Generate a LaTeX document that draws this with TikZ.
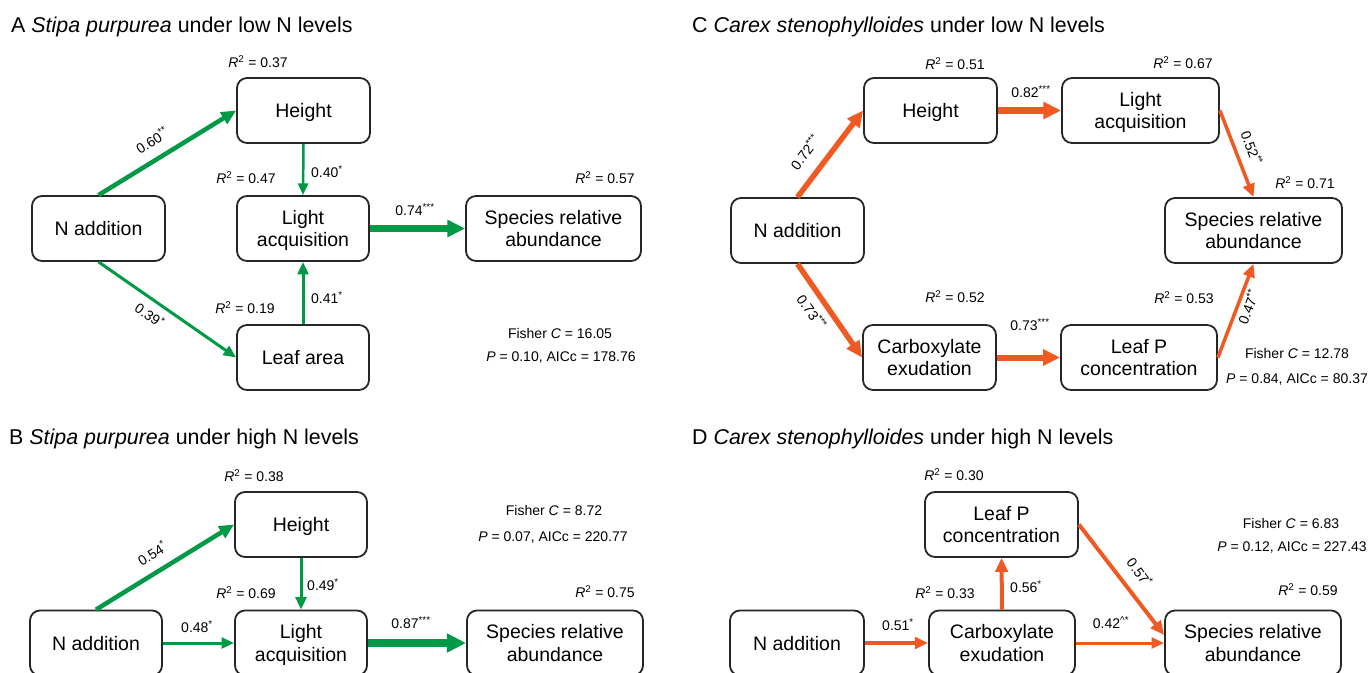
\documentclass[tikz,border=0pt]{standalone}
\usepackage{fontspec}
\setmainfont{Liberation Sans}
\usetikzlibrary{arrows.meta}
\definecolor{sgreen}{RGB}{0,153,70}
\definecolor{corange}{RGB}{240,90,34}
\newcommand{\Rsq}[1]{\textit{R}\textsuperscript{2} = #1}
\newcommand{\sig}[1]{\textsuperscript{#1}}
\begin{document}
\begin{tikzpicture}[x=1pt,y=-1pt,
  box/.style={draw=black!85, line width=1.8pt, rounded corners=10pt, minimum height=65pt, align=center, inner sep=0pt, text depth=0pt, font=\fontsize{19.5}{22.5}\selectfont},
  lab/.style={font=\fontsize{14}{16}\selectfont, inner sep=0pt},
  ttl/.style={font=\fontsize{21.4}{24}\selectfont, anchor=base west, inner sep=0pt},
  garr/.style={draw=sgreen, line width=#1, -{Triangle[length=8pt 1.5, width=6pt 1.6]}},
  oarr/.style={draw=corange, line width=#1, -{Triangle[length=8pt 1.5, width=6pt 1.6]}}]
\clip (0,0) rectangle (1370,672);
\fill[white] (0,0) rectangle (1370,672);
% ---------- Panel A
\node[ttl] (aT) at (11,32) {A \textit{Stipa purpurea} under low N levels};
\node[box, minimum width=133pt] (aH) at (303.5,110.5) {Height};
\node[box, minimum width=132pt] (aL) at (303,228.5) {Light\\acquisition};
\node[box, minimum width=132pt] (aLA) at (303,357.5) {Leaf area};
\node[box, minimum width=133pt] (aN) at (98.5,228.5) {N addition};
\node[box, minimum width=175pt] (aS) at (553.5,228.5) {Species relative\\abundance};
\draw[garr=4.5pt] (aN.north) -- (aH.west);
\draw[garr=2.5pt] (aH.south) -- (aL.north);
\draw[garr=3pt] (aN.south) -- (aLA.west);
\draw[garr=3pt] (aLA.north) -- (aL.south);
\draw[garr=6.5pt] (aL.east) -- (aS.west);
\node[lab] (aR1) at (258,62) {\Rsq{0.37}};
\node[lab] (aR2) at (246,178) {\Rsq{0.47}};
\node[lab, anchor=west] (aE2) at (311,172) {0.40\sig{*}};
\node[lab] (aR3) at (605,178) {\Rsq{0.57}};
\node[lab] (aE5) at (415,210) {0.74\sig{***}};
\node[lab] (aR4) at (245,308) {\Rsq{0.19}};
\node[lab, anchor=west] (aE4) at (311,298) {0.41\sig{*}};
\node[lab, rotate=-35] (aE3) at (150,315) {0.39\sig{*}};
\node[lab, rotate=32] (aE1) at (152,140) {0.60\sig{**}};
\node[lab] (aF1) at (560,333) {Fisher \textit{C} = 16.05};
\node[lab] (aF2) at (561,358) {\textit{P} = 0.10, AICc = 178.76};
% ---------- Panel C
\node[ttl] (cT) at (692,32) {C \textit{Carex stenophylloides} under low N levels};
\node[box, minimum width=133pt] (cH) at (930.5,110.5) {Height};
\node[box, minimum width=157pt] (cL) at (1140.5,110.5) {Light\\acquisition};
\node[box, minimum width=177pt] (cS) at (1253.5,230.5) {Species relative\\abundance};
\node[box, minimum width=133pt] (cN) at (797.5,230.5) {N addition};
\node[box, minimum width=133pt] (cC) at (929.5,357.5) {Carboxylate\\exudation};
\node[box, minimum width=156pt] (cP) at (1139,357.5) {Leaf P\\concentration};
\draw[oarr=5.5pt] (cN.north) -- (cH.west);
\draw[oarr=6.5pt] (cH.east) -- (cL.west);
\draw[oarr=3.5pt] (cL.east) -- (cS.north);
\draw[oarr=5.5pt] (cN.south) -- (cC.west);
\draw[oarr=6pt] (cC.east) -- (cP.west);
\draw[oarr=3.5pt] (cP.east) -- (cS.south);
\node[lab] (cR1) at (955,64) {\Rsq{0.51}};
\node[lab] (cE2) at (1031,92) {0.82\sig{***}};
\node[lab] (cR2) at (1183,63) {\Rsq{0.67}};
\node[lab, rotate=-70] (cE3) at (1252,148) {0.52\sig{**}};
\node[lab] (cR3) at (1305,183) {\Rsq{0.71}};
\node[lab, rotate=53] (cE1) at (805,152) {0.72\sig{***}};
\node[lab, rotate=-55] (cE4) at (812,312) {0.73\sig{***}};
\node[lab] (cR4) at (955,297) {\Rsq{0.52}};
\node[lab] (cE5) at (1030,325) {0.73\sig{***}};
\node[lab] (cR5) at (1184,298) {\Rsq{0.53}};
\node[lab, rotate=69] (cE6) at (1248,307) {0.47\sig{**}};
\node[lab] (cF1) at (1297,353) {Fisher \textit{C} = 12.78};
\node[lab] (cF2) at (1297,380) {\textit{P} = 0.84, AICc = 80.37};
% ---------- Panel B
\node[ttl] (bT) at (9,444) {B \textit{Stipa purpurea} under high N levels};
\node[box, minimum width=132pt] (bH) at (301,524.5) {Height};
\node[box, minimum width=132pt] (bL) at (301,643) {Light\\acquisition};
\node[box, minimum width=132pt] (bN) at (96,643) {N addition};
\node[box, minimum width=176pt] (bS) at (555,643) {Species relative\\abundance};
\draw[garr=4.5pt] (bN.north) -- (bH.west);
\draw[garr=3pt] (bH.south) -- (bL.north);
\draw[garr=3pt] (bN.east) -- (bL.west);
\draw[garr=7.5pt] (bL.east) -- (bS.west);
\node[lab] (bR1) at (254,476) {\Rsq{0.38}};
\node[lab] (bF1) at (554,510) {Fisher \textit{C} = 8.72};
\node[lab] (bF2) at (553,537) {\textit{P} = 0.07, AICc = 220.77};
\node[lab, rotate=32] (bE1) at (152,553) {0.54\sig{*}};
\node[lab] (bR2) at (246,593) {\Rsq{0.69}};
\node[lab] (bE2) at (323,585) {0.49\sig{*}};
\node[lab] (bR3) at (605,592) {\Rsq{0.75}};
\node[lab] (bE3) at (197,627) {0.48\sig{*}};
\node[lab] (bE4) at (411,623) {0.87\sig{***}};
% ---------- Panel D
\node[ttl] (dT) at (692,444) {D \textit{Carex stenophylloides} under high N levels};
\node[box, minimum width=153pt] (dP) at (1001.5,524.5) {Leaf P\\concentration};
\node[box, minimum width=146pt] (dC) at (1002,643) {Carboxylate\\exudation};
\node[box, minimum width=134pt] (dN) at (797,643) {N addition};
\node[box, minimum width=176pt] (dS) at (1253,643) {Species relative\\abundance};
\draw[oarr=3.5pt] (dN.east) -- (dC.west);
\draw[oarr=4pt] (dC.north) -- (dP.south);
\draw[oarr=3pt] (dC.east) -- (dS.west);
\draw[oarr=4pt] (dP.east) -- ([yshift=8pt]dS.west);
\node[lab] (dR1) at (954,475) {\Rsq{0.30}};
\node[lab] (dF1) at (1291,523) {Fisher \textit{C} = 6.83};
\node[lab] (dF2) at (1292,547) {\textit{P} = 0.12, AICc = 227.43};
\node[lab] (dR2) at (945,593) {\Rsq{0.33}};
\node[lab] (dE2) at (1026,587) {0.56\sig{*}};
\node[lab, rotate=-54] (dE4) at (1140,572) {0.57\sig{*}};
\node[lab] (dR3) at (1308,590) {\Rsq{0.59}};
\node[lab] (dE1) at (898,625) {0.51\sig{*}};
\node[lab] (dE3) at (1111,623) {0.42\sig{\textasciicircum*}};
\end{tikzpicture}
\end{document}
